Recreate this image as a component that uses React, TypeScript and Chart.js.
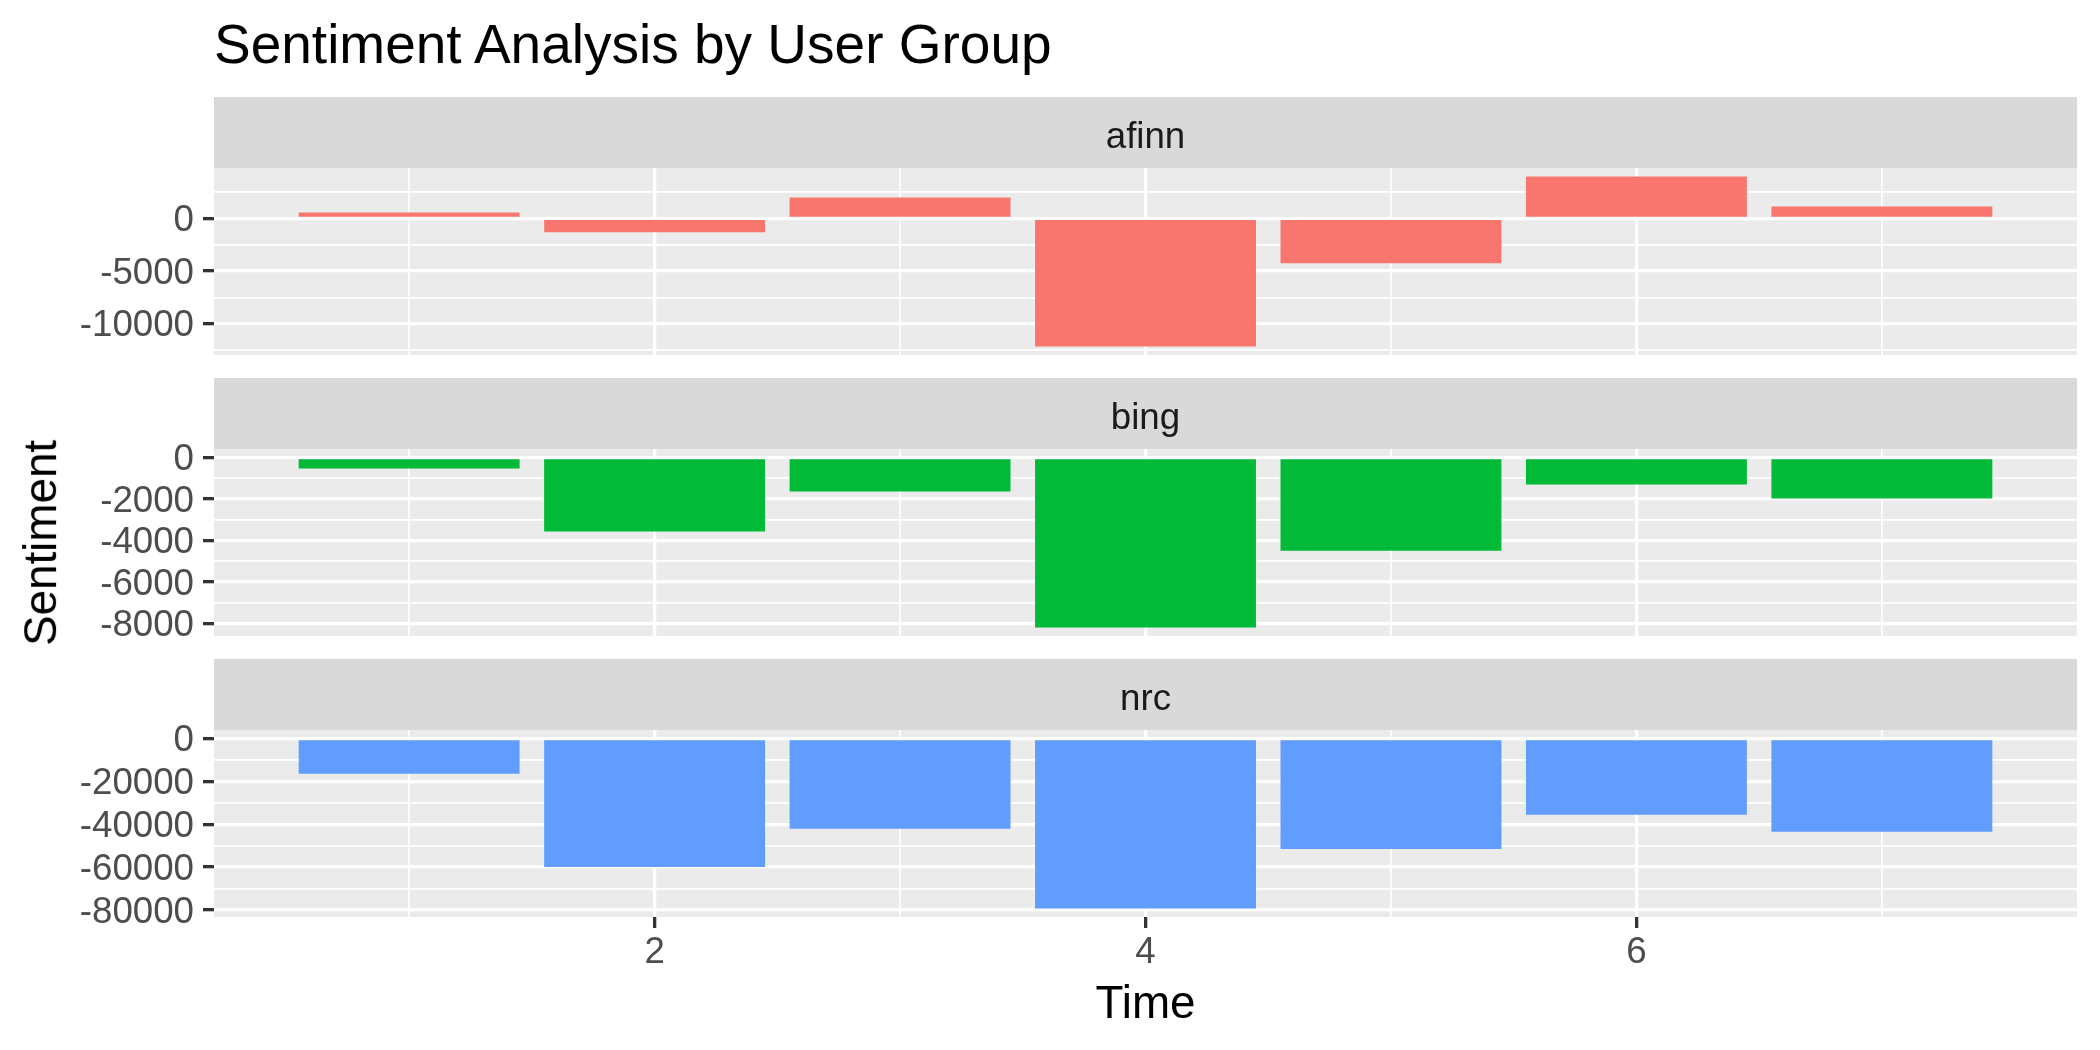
import React, { useEffect, useRef } from 'react';
import { Chart, registerables } from 'chart.js';

Chart.register(...registerables);

// ---------------- data ----------------
const timePoints = [1, 2, 3, 4, 5, 6, 7];
const groupNames = ['afinn', 'bing', 'nrc'];
const groupColors = ['#F8766D', '#00BA38', '#619CFF'];
const afinnValues = [570, -1320, 1980, -12150, -4255, 3975, 1125];
const bingValues = [-530, -3575, -1640, -8200, -4495, -1300, -1980];
const nrcValues = [-16420, -59930, -42150, -79300, -51510, -35600, -43550];
const afinnTicks = [-10000, -5000, 0];
const bingTicks = [-8000, -6000, -4000, -2000, 0];
const nrcTicks = [-80000, -60000, -40000, -20000, 0];
const timeTicks = [2, 4, 6];
const titleText = 'Sentiment Analysis by User Group';
const xTitleText = 'Time';
const yTitleText = 'Sentiment';

// ---------------- layout ----------------
const FONT = "'Liberation Sans', Arial, Helvetica, sans-serif";
const W = 2100;
const H = 1050;
const PLOT_LEFT = 214;
const PLOT_RIGHT = 2077;
const STRIP_H = 71;
const PLOT_H = 187;
const PANEL_TOPS = [97, 378, 659];
const X_AXIS_H = 133;
const STRIP_BASELINE = 51;
const TICK_FONT = 36.7;
const MAJOR_W = 3.3;
const MINOR_W = 1.7;

function expandRange(vals: number[], includeZero: boolean, halfWidth = 0): [number, number] {
  let lo = Math.min(...vals) - halfWidth;
  let hi = Math.max(...vals) + halfWidth;
  if (includeZero) {
    lo = Math.min(lo, 0);
    hi = Math.max(hi, 0);
  }
  const pad = (hi - lo) * 0.05;
  return [lo - pad, hi + pad];
}

function withMinor(majors: number[], lo: number, hi: number): number[] {
  const step = majors[1] - majors[0];
  const out: number[] = [];
  for (let v = majors[0] - step * 2; v <= majors[majors.length - 1] + step * 2; v += step / 2) {
    if (v >= lo && v <= hi) out.push(v);
  }
  return out.sort((a, b) => a - b);
}

type PanelProps = {
  name: string;
  color: string;
  values: number[];
  ticks: number[];
  top: number;
  showX: boolean;
};

function Panel({ name, color, values, ticks, top, showX }: PanelProps) {
  const ref = useRef<HTMLCanvasElement | null>(null);
  const height = STRIP_H + PLOT_H + (showX ? X_AXIS_H : 0);

  useEffect(() => {
    const canvas = ref.current;
    if (!canvas) return;
    const [yMin, yMax] = expandRange(values, true);
    const [xMin, xMax] = expandRange(timePoints, false, 0.45);
    const yMajor = new Set(ticks);
    const xMajor = new Set(timeTicks);
    const yAll = withMinor(ticks, yMin, yMax);
    const xAll = withMinor(timeTicks, xMin, xMax);

    const facetPlugin = {
      id: 'facetPanel',
      beforeDraw(chart: any) {
        const { ctx, chartArea: a } = chart;
        ctx.save();
        ctx.fillStyle = '#D9D9D9';
        ctx.fillRect(a.left, 0, a.right - a.left, a.top);
        ctx.fillStyle = '#EBEBEB';
        ctx.fillRect(a.left, a.top, a.right - a.left, a.bottom - a.top);
        ctx.fillStyle = '#1A1A1A';
        ctx.font = `${TICK_FONT}px ${FONT}`;
        ctx.textAlign = 'center';
        ctx.textBaseline = 'alphabetic';
        ctx.fillText(name, (a.left + a.right) / 2, STRIP_BASELINE);
        ctx.restore();
      },
    };

    const zeroPad = (s: any) => {
      s.paddingLeft = 0;
      s.paddingRight = 0;
      s.paddingTop = 0;
      s.paddingBottom = 0;
    };

    const chart = new Chart(canvas, {
      type: 'bar',
      data: {
        datasets: [
          {
            label: name,
            data: values.map((v, i) => ({ x: timePoints[i], y: v })),
            backgroundColor: color,
            borderWidth: 0,
            barPercentage: 0.9,
            categoryPercentage: 1,
          },
        ],
      },
      options: {
        responsive: false,
        maintainAspectRatio: false,
        animation: false,
        layout: { padding: { top: STRIP_H, right: W - PLOT_RIGHT, bottom: 0, left: 0 } },
        plugins: {
          legend: { display: false },
          tooltip: { enabled: false },
          title: { display: false },
        },
        scales: {
          x: {
            type: 'linear',
            min: xMin,
            max: xMax,
            bounds: 'data',
            offset: false,
            afterBuildTicks: (s: any) => {
              s.ticks = xAll.map((v) => ({ value: v }));
            },
            afterFit: (s: any) => {
              s.height = showX ? X_AXIS_H : 0;
              zeroPad(s);
            },
            grid: {
              offset: false,
              color: '#FFFFFF',
              lineWidth: (c: any) => (c.tick && xMajor.has(c.tick.value) ? MAJOR_W : MINOR_W),
              drawTicks: showX,
              tickLength: 11,
              tickWidth: MAJOR_W,
              tickColor: (c: any) => (c.tick && xMajor.has(c.tick.value) ? '#333333' : 'rgba(0,0,0,0)'),
            },
            border: { display: false },
            ticks: {
              display: showX,
              autoSkip: false,
              maxRotation: 0,
              minRotation: 0,
              padding: 3,
              color: '#4D4D4D',
              font: { size: TICK_FONT, family: FONT },
              callback: (v: any) => (xMajor.has(v) ? String(v) : ''),
            },
          },
          y: {
            type: 'linear',
            min: yMin,
            max: yMax,
            bounds: 'data',
            afterBuildTicks: (s: any) => {
              s.ticks = yAll.map((v) => ({ value: v }));
            },
            afterFit: (s: any) => {
              s.width = PLOT_LEFT;
              zeroPad(s);
            },
            grid: {
              color: '#FFFFFF',
              lineWidth: (c: any) => (c.tick && yMajor.has(c.tick.value) ? MAJOR_W : MINOR_W),
              drawTicks: true,
              tickLength: 11,
              tickWidth: MAJOR_W,
              tickColor: (c: any) => (c.tick && yMajor.has(c.tick.value) ? '#333333' : 'rgba(0,0,0,0)'),
            },
            border: { display: false },
            ticks: {
              autoSkip: false,
              padding: 9,
              labelOffset: 2.5,
              color: '#4D4D4D',
              font: { size: TICK_FONT, family: FONT },
              callback: (v: any) => (yMajor.has(v) ? String(v) : ''),
            },
          },
        },
      } as any,
      plugins: [facetPlugin],
    });
    return () => chart.destroy();
  }, []);

  return (
    <canvas
      ref={ref}
      width={W}
      height={height}
      style={{ position: 'absolute', left: 0, top, width: W, height, display: 'block' }}
    />
  );
}

const valueSets = [afinnValues, bingValues, nrcValues];
const tickSets = [afinnTicks, bingTicks, nrcTicks];

export default function App() {
  return (
    <div
      style={{
        position: 'absolute',
        left: 0,
        top: 0,
        width: W,
        height: H,
        background: '#FFFFFF',
        overflow: 'hidden',
        fontFamily: FONT,
      }}
    >
      <div
        style={{
          position: 'absolute',
          left: PLOT_LEFT,
          top: 16.7,
          fontSize: 55,
          lineHeight: '55px',
          color: '#000000',
          whiteSpace: 'nowrap',
        }}
      >
        {titleText}
      </div>
      {groupNames.map((g, i) => (
        <Panel
          key={g}
          name={g}
          color={groupColors[i]}
          values={valueSets[i]}
          ticks={tickSets[i]}
          top={PANEL_TOPS[i]}
          showX={i === groupNames.length - 1}
        />
      ))}
      <div
        style={{
          position: 'absolute',
          left: (PLOT_LEFT + PLOT_RIGHT) / 2 - 200,
          width: 400,
          top: 979.5,
          fontSize: 45.8,
          lineHeight: '45.8px',
          textAlign: 'center',
          color: '#000000',
        }}
      >
        {xTitleText}
      </div>
      <div
        style={{
          position: 'absolute',
          left: 41.4 - 200,
          width: 400,
          top: 542.5 - 22.9,
          height: 45.8,
          fontSize: 45.8,
          lineHeight: '45.8px',
          textAlign: 'center',
          color: '#000000',
          transform: 'rotate(-90deg)',
          whiteSpace: 'nowrap',
        }}
      >
        {yTitleText}
      </div>
    </div>
  );
}
